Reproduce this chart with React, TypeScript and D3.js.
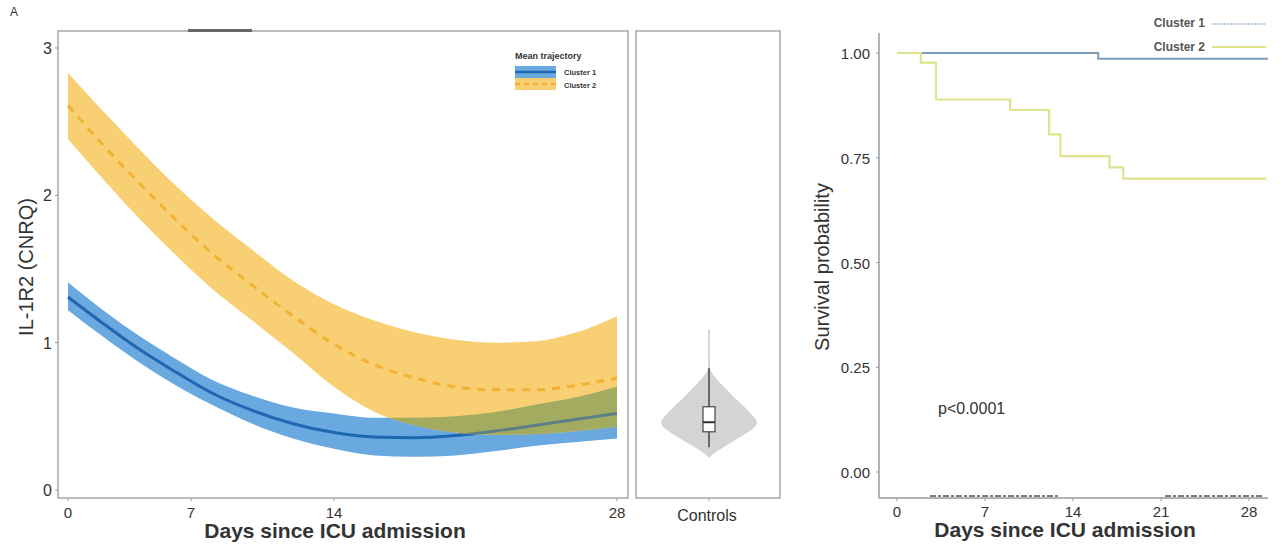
import React from 'react';
import * as d3 from 'd3';

// ---------- data ----------
const days = [0, 2, 4, 6, 8, 10, 12, 14, 16, 18, 20, 22, 24, 26, 28];
const c1Mean = [1.31, 1.13, 0.96, 0.81, 0.66, 0.54, 0.45, 0.39, 0.36, 0.355, 0.37, 0.40, 0.44, 0.48, 0.52];
const c1Upper = [1.41, 1.22, 1.05, 0.90, 0.75, 0.64, 0.56, 0.52, 0.49, 0.49, 0.50, 0.53, 0.58, 0.63, 0.70];
const c1Lower = [1.22, 1.04, 0.87, 0.72, 0.58, 0.45, 0.35, 0.28, 0.235, 0.225, 0.235, 0.265, 0.30, 0.325, 0.35];
const c2Mean = [2.61, 2.34, 2.09, 1.85, 1.61, 1.39, 1.18, 0.99, 0.85, 0.76, 0.70, 0.68, 0.68, 0.71, 0.76];
const c2Upper = [2.83, 2.57, 2.32, 2.08, 1.85, 1.63, 1.42, 1.26, 1.15, 1.07, 1.02, 1.00, 1.01, 1.07, 1.18];
const c2Lower = [2.38, 2.11, 1.85, 1.61, 1.37, 1.15, 0.93, 0.70, 0.53, 0.44, 0.39, 0.375, 0.38, 0.40, 0.43];

const xTicksL = [0, 7, 14, 28];
const yTicksL = [0, 1, 2, 3];

// controls violin
const violinValues = [0.22, 0.26, 0.30, 0.34, 0.38, 0.42, 0.46, 0.50, 0.55, 0.60, 0.65, 0.70, 0.75, 0.80, 0.83];
const violinDensity = [0, 0.15, 0.35, 0.55, 0.75, 0.93, 1.0, 0.92, 0.78, 0.62, 0.46, 0.31, 0.17, 0.05, 0];
const boxStats = { min: 0.29, q1: 0.395, median: 0.46, q3: 0.565, max: 0.83, outerMax: 1.09 };

// survival (Kaplan-Meier)
const km1Time = [0, 16, 29.5];
const km1Surv = [1, 0.986, 0.986];
const km2Time = [0, 1.9, 3.1, 9, 12.1, 13, 16.9, 18, 29.4];
const km2Surv = [1, 0.977, 0.889, 0.864, 0.806, 0.754, 0.727, 0.70, 0.70];
const xTicksR = [0, 7, 14, 21, 28];
const yTicksR = [0, 0.25, 0.5, 0.75, 1];
const seriesNames = ['Cluster 1', 'Cluster 2'];

// ---------- colours ----------
const BLUE_BAND = '#6aa8e0';
const BLUE_LINE = '#1f67b1';
const YEL_BAND = '#f8d073';
const YEL_LINE = '#f0b232';
const OVERLAP = '#a3ab60';
const BLUE_LINE_OVER = '#5f7f86';
const KM1 = '#7f9db8';
const KM2 = '#dfe48c';
const AXIS = '#9a9a9a';
const TXT = '#333';

export default function App() {
  // left panel scales
  const xL = d3.scaleLinear().domain([0, 7, 14, 28]).range([68, 191, 334, 617]);
  const yL = d3.scaleLinear().domain([0, 3]).range([490, 48]);

  const idx = days.map((_, i) => i);
  const area = (lo: number[], hi: number[]) =>
    d3.area<number>().x((i) => xL(days[i])).y0((i) => yL(lo[i])).y1((i) => yL(hi[i])).curve(d3.curveMonotoneX)(idx) || '';
  const line = (v: number[]) =>
    d3.line<number>().x((i) => xL(days[i])).y((i) => yL(v[i])).curve(d3.curveMonotoneX)(idx) || '';

  const blueArea = area(c1Lower, c1Upper);
  const yelArea = area(c2Lower, c2Upper);
  const blueLine = line(c1Mean);
  const yelLine = line(c2Mean);

  // violin
  const cx = 709;
  const wS = d3.scaleLinear().domain([0, 1]).range([0, 48]);
  const vIdx = violinValues.map((_, i) => i);
  const violin = d3.area<number>()
    .y((i) => yL(violinValues[i]))
    .x0((i) => cx - wS(violinDensity[i]))
    .x1((i) => cx + wS(violinDensity[i]))
    .curve(d3.curveCatmullRom)(vIdx) || '';

  // KM scales
  const xR = d3.scaleLinear().domain([0, 28]).range([897, 1249]);
  const yR = d3.scaleLinear().domain([0, 1]).range([472, 53]);
  const kmLine = (t: number[], s: number[]) =>
    d3.line<number>().x((i) => xR(t[i])).y((i) => yR(s[i])).curve(d3.curveStepAfter)(t.map((_, i) => i)) || '';

  const font = 'Liberation Sans, Arial, sans-serif';

  return (
    <svg width={1287} height={547} style={{ position: 'absolute', left: 0, top: 0, background: '#fff' }} fontFamily={font}>
      <defs>
        <clipPath id="clipBlue"><path d={blueArea} /></clipPath>
        <clipPath id="clipYel"><path d={yelArea} /></clipPath>
        <clipPath id="panelL"><rect x={58} y={31} width={570} height={467} /></clipPath>
      </defs>
      <rect width={1287} height={547} fill="#fff" />
      <text x={10} y={16} fontSize={12} fill={TXT}>A</text>

      {/* ---------- left trajectory panel ---------- */}
      <rect x={58} y={31} width={570} height={467} fill="#fff" stroke={AXIS} strokeWidth={1.3} />
      <rect x={188} y={29} width={64} height={3} fill="#666" />
      <g clipPath="url(#panelL)">
        <path d={blueArea} fill={BLUE_BAND} />
        <path d={blueLine} fill="none" stroke={BLUE_LINE} strokeWidth={3} />
        <path d={yelArea} fill={YEL_BAND} />
        <path d={yelArea} fill={OVERLAP} clipPath="url(#clipBlue)" />
        <g clipPath="url(#clipYel)">
          <path d={blueLine} fill="none" stroke={BLUE_LINE_OVER} strokeWidth={3} />
        </g>
        <path d={yelLine} fill="none" stroke={YEL_LINE} strokeWidth={3} strokeDasharray="8,7" />
      </g>
      {yTicksL.map((t) => (
        <g key={'yl' + t}>
          <line x1={55} x2={58} y1={yL(t)} y2={yL(t)} stroke={AXIS} />
          <text x={52} y={yL(t) + 6} fontSize={16} textAnchor="end" fill={TXT}>{t}</text>
        </g>
      ))}
      {xTicksL.map((t) => (
        <g key={'xl' + t}>
          <line x1={xL(t)} x2={xL(t)} y1={498} y2={501} stroke={AXIS} />
          <text x={xL(t)} y={518} fontSize={15} textAnchor="middle" fill={TXT}>{t}</text>
        </g>
      ))}
      <text x={335} y={538} fontSize={21} fontWeight="bold" textAnchor="middle" fill={TXT}>Days since ICU admission</text>
      <text transform="translate(33,267) rotate(-90)" fontSize={20} textAnchor="middle" fill={TXT}>IL-1R2 (CNRQ)</text>

      {/* legend */}
      <text x={515} y={59} fontSize={9} fontWeight="bold" fill={TXT}>Mean trajectory</text>
      <rect x={515} y={66} width={41} height={12} fill={BLUE_BAND} />
      <line x1={515} x2={556} y1={72} y2={72} stroke={BLUE_LINE} strokeWidth={2.5} />
      <rect x={515} y={78} width={41} height={12} fill={YEL_BAND} />
      <line x1={515} x2={556} y1={84} y2={84} stroke={YEL_LINE} strokeWidth={2.5} strokeDasharray="5,4" />
      <text x={564} y={75} fontSize={7.5} fontWeight="bold" fill={TXT}>{seriesNames[0]}</text>
      <text x={564} y={88} fontSize={7.5} fontWeight="bold" fill={TXT}>{seriesNames[1]}</text>

      {/* ---------- controls panel ---------- */}
      <rect x={636} y={31} width={144} height={467} fill="#fff" stroke={AXIS} strokeWidth={1.3} />
      <line x1={cx} x2={cx} y1={yL(boxStats.outerMax)} y2={yL(boxStats.max)} stroke="#c8c8c8" strokeWidth={1.5} />
      <path d={violin} fill="#d4d4d4" />
      <line x1={cx} x2={cx} y1={yL(boxStats.max)} y2={yL(boxStats.min)} stroke="#444" strokeWidth={1.5} />
      <rect x={cx - 6} y={yL(boxStats.q3)} width={12} height={yL(boxStats.q1) - yL(boxStats.q3)} fill="#fff" stroke="#444" strokeWidth={1.2} />
      <line x1={cx - 6} x2={cx + 6} y1={yL(boxStats.median)} y2={yL(boxStats.median)} stroke="#333" strokeWidth={2} />
      <line x1={cx} x2={cx} y1={498} y2={501} stroke={AXIS} />
      <text x={cx - 2} y={521} fontSize={16} textAnchor="middle" fill={TXT}>Controls</text>

      {/* ---------- survival panel ---------- */}
      <line x1={879} x2={879} y1={33} y2={498} stroke={AXIS} strokeWidth={1.5} />
      <line x1={879} x2={1268} y1={498} y2={498} stroke={AXIS} strokeWidth={1.5} />
      {yTicksR.map((t) => (
        <g key={'yr' + t}>
          <line x1={876} x2={879} y1={yR(t)} y2={yR(t)} stroke={AXIS} />
          <text x={870} y={yR(t) + 6} fontSize={15} textAnchor="end" fill={TXT}>{t.toFixed(2)}</text>
        </g>
      ))}
      {xTicksR.map((t) => (
        <g key={'xr' + t}>
          <line x1={xR(t)} x2={xR(t)} y1={498} y2={501} stroke={AXIS} />
          <text x={xR(t)} y={517} fontSize={15} textAnchor="middle" fill={TXT}>{t}</text>
        </g>
      ))}
      <line x1={930} x2={1060} y1={496} y2={496} stroke="#555" strokeWidth={1.5} strokeDasharray="6,2,3,2" />
      <line x1={1165} x2={1263} y1={496} y2={496} stroke="#555" strokeWidth={1.5} strokeDasharray="6,2,3,2" />
      <path d={kmLine(km1Time, km1Surv)} fill="none" stroke={KM1} strokeWidth={2} />
      <path d={kmLine(km2Time, km2Surv)} fill="none" stroke={KM2} strokeWidth={2.2} />
      <text x={938} y={414} fontSize={16} fill={TXT}>p&lt;0.0001</text>
      <text x={1065} y={537} fontSize={21} fontWeight="bold" textAnchor="middle" fill={TXT}>Days since ICU admission</text>
      <text transform="translate(829,267) rotate(-90)" fontSize={20} textAnchor="middle" fill={TXT}>Survival probability</text>

      {/* legend */}
      <text x={1205} y={27} fontSize={12} fontWeight="bold" textAnchor="end" fill="#555">{seriesNames[0]}</text>
      <line x1={1212} x2={1266} y1={24} y2={24} stroke="#9dbad6" strokeWidth={1.5} strokeDasharray="2,1" />
      <text x={1205} y={51} fontSize={12} fontWeight="bold" textAnchor="end" fill="#555">{seriesNames[1]}</text>
      <line x1={1212} x2={1266} y1={47} y2={47} stroke={KM2} strokeWidth={2} />
    </svg>
  );
}
